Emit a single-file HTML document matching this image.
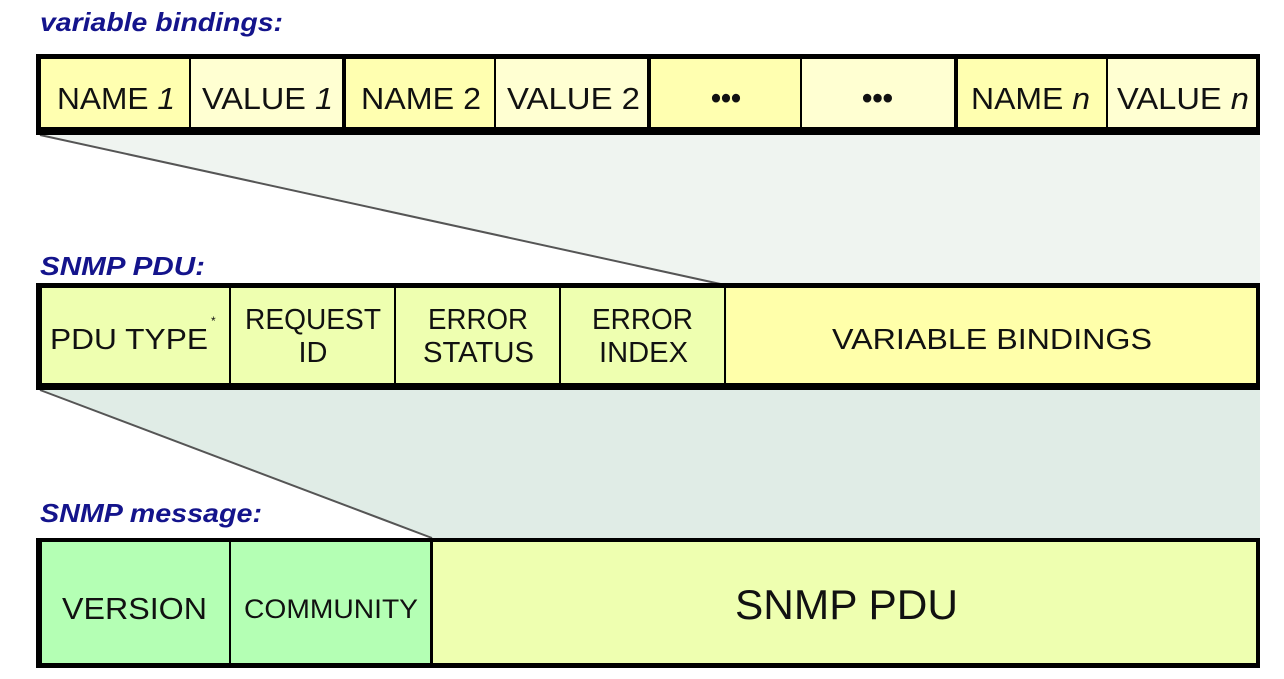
<!DOCTYPE html>
<html><head><meta charset="utf-8"><style>
html,body{margin:0;padding:0;background:#fff;}
svg{display:block;font-family:"Liberation Sans",Arial,sans-serif;}
</style></head><body>
<svg width="1284" height="679" viewBox="0 0 1284 679" xmlns="http://www.w3.org/2000/svg">
<polygon points="40,135 725,285 1260,285 1260,135" fill="#eff4f0"/>
<line x1="40" y1="135" x2="725" y2="285" stroke="#555" stroke-width="2"/>
<polygon points="40,390 432,538 1260,538 1260,390" fill="#e0ece6"/>
<line x1="40" y1="390" x2="432" y2="538" stroke="#555" stroke-width="2"/>

<g fill="#14148c" font-weight="bold" font-style="italic" font-size="26">
<text x="40" y="31" textLength="243" lengthAdjust="spacingAndGlyphs">variable bindings:</text>
<text x="40" y="275" textLength="165" lengthAdjust="spacingAndGlyphs">SNMP PDU:</text>
<text x="40" y="522" textLength="222" lengthAdjust="spacingAndGlyphs">SNMP message:</text>
</g>

<rect x="36" y="54" width="1224" height="81" fill="#000"/>
<rect x="41" y="59" width="148" height="68" fill="#ffffb0"/>
<rect x="191" y="59" width="151" height="68" fill="#ffffd2"/>
<rect x="346" y="59" width="148" height="68" fill="#ffffb0"/>
<rect x="496" y="59" width="151" height="68" fill="#ffffd2"/>
<rect x="651" y="59" width="149" height="68" fill="#ffffb0"/>
<rect x="802" y="59" width="152" height="68" fill="#ffffd2"/>
<rect x="958" y="59" width="148" height="68" fill="#ffffb0"/>
<rect x="1108" y="59" width="148" height="68" fill="#ffffd2"/>
<g font-size="31" fill="#111">
<text x="57" y="109" textLength="118" lengthAdjust="spacingAndGlyphs">NAME <tspan font-style="italic">1</tspan></text>
<text x="202" y="109" textLength="131" lengthAdjust="spacingAndGlyphs">VALUE <tspan font-style="italic">1</tspan></text>
<text x="361" y="109" textLength="120" lengthAdjust="spacingAndGlyphs">NAME 2</text>
<text x="507" y="109" textLength="133" lengthAdjust="spacingAndGlyphs">VALUE 2</text>
<text x="711" y="108" font-weight="bold" textLength="30" lengthAdjust="spacingAndGlyphs">•••</text>
<text x="862" y="108" font-weight="bold" textLength="31" lengthAdjust="spacingAndGlyphs">•••</text>
<text x="971" y="109" textLength="119" lengthAdjust="spacingAndGlyphs">NAME <tspan font-style="italic">n</tspan></text>
<text x="1117" y="109" textLength="132" lengthAdjust="spacingAndGlyphs">VALUE <tspan font-style="italic">n</tspan></text>
</g>

<rect x="36" y="283" width="1224" height="107" fill="#000"/>
<rect x="42" y="288" width="1214" height="95" fill="#eeffb0"/>
<rect x="727" y="288" width="529" height="95" fill="#ffffaa"/>
<g fill="#000">
<rect x="229" y="288" width="2" height="95"/>
<rect x="394" y="288" width="2" height="95"/>
<rect x="559" y="288" width="2" height="95"/>
<rect x="724" y="288" width="2" height="95"/>
</g>
<g font-size="29" fill="#111">
<text x="50" y="349" textLength="158" lengthAdjust="spacingAndGlyphs">PDU TYPE</text>
<text x="211" y="325" font-size="12">*</text>
<text x="245" y="329" textLength="136" lengthAdjust="spacingAndGlyphs">REQUEST</text>
<text x="313" y="362" text-anchor="middle">ID</text>
<text x="428" y="329" textLength="100" lengthAdjust="spacingAndGlyphs">ERROR</text>
<text x="423" y="362" textLength="111" lengthAdjust="spacingAndGlyphs">STATUS</text>
<text x="592" y="329" textLength="101" lengthAdjust="spacingAndGlyphs">ERROR</text>
<text x="599" y="362" textLength="89" lengthAdjust="spacingAndGlyphs">INDEX</text>
<text x="832" y="349" textLength="320" lengthAdjust="spacingAndGlyphs">VARIABLE BINDINGS</text>
</g>

<rect x="36" y="538" width="1224" height="130" fill="#000"/>
<rect x="42" y="542" width="388" height="121" fill="#b4ffb4"/>
<rect x="433" y="542" width="823" height="121" fill="#eeffb0"/>
<rect x="229" y="542" width="2" height="121" fill="#000"/>
<g fill="#111">
<text x="62" y="619" font-size="31" textLength="145" lengthAdjust="spacingAndGlyphs">VERSION</text>
<text x="244" y="618" font-size="27" textLength="174" lengthAdjust="spacingAndGlyphs">COMMUNITY</text>
<text x="735" y="619" font-size="42" textLength="223" lengthAdjust="spacingAndGlyphs">SNMP PDU</text>
</g>
</svg>
</body></html>
